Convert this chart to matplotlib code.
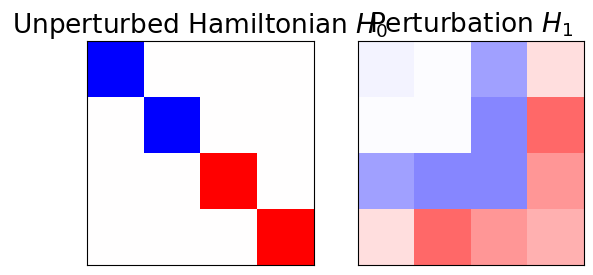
import numpy as np
import matplotlib
matplotlib.use("Agg")
import matplotlib.pyplot as plt

titles = ["Unperturbed Hamiltonian $H_0$", "Perturbation $H_1$"]
h0_diag = [-1.0, -1.0, 1.0, 1.0]
h1_row0 = [-0.04, -0.008, -0.37, 0.13]
h1_row1 = [-0.008, -0.008, -0.47, 0.59]
h1_row2 = [-0.37, -0.47, -0.47, 0.41]
h1_row3 = [0.13, 0.59, 0.41, 0.31]

H0 = np.diag(h0_diag)
H1 = np.array([h1_row0, h1_row1, h1_row2, h1_row3])

fig = plt.figure(figsize=(5.93, 2.75), dpi=100)
W, H = 593, 275
ax1 = fig.add_axes([87 / W, 1 - 265 / H, 227 / W, 224 / H])
ax2 = fig.add_axes([358 / W, 1 - 265 / H, 226 / W, 224 / H])

for ax, M, t in zip([ax1, ax2], [H0, H1], titles):
    ax.imshow(M, cmap="bwr", vmin=-1, vmax=1, aspect="auto", interpolation="nearest")
    ax.set_xticks([])
    ax.set_yticks([])
    ax.set_title(t, fontsize=19)

fig.savefig("out.png", dpi=100)
